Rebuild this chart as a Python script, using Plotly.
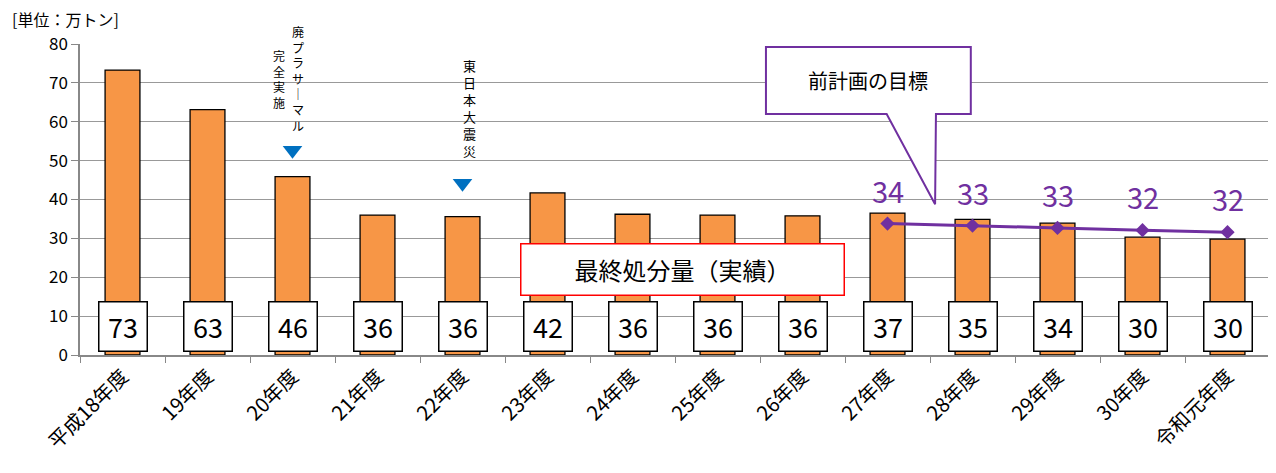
import plotly.graph_objects as go

categories = ["平成18年度", "19年度", "20年度", "21年度", "22年度", "23年度", "24年度",
              "25年度", "26年度", "27年度", "28年度", "29年度", "30年度", "令和元年度"]
actual = [73.3, 63.1, 45.9, 36.0, 35.6, 41.7, 36.2, 36.0, 35.8, 36.5, 34.9, 33.9, 30.3, 29.8]
actual_labels = ["73", "63", "46", "36", "36", "42", "36", "36", "36", "37", "35", "34", "30", "30"]
target_cats = ["27年度", "28年度", "29年度", "30年度", "令和元年度"]
target = [33.8, 33.3, 32.7, 32.1, 31.6]
target_labels = ["34", "33", "33", "32", "32"]
event_cats = ["20年度", "22年度"]
event_marks = [52.7, 44.2]

FONT = "Noto Sans CJK JP"
PURPLE = "#7030A0"

fig = go.Figure()
fig.add_trace(go.Bar(x=categories, y=actual, width=0.41,
                     marker=dict(color="#F79646", line=dict(color="#000000", width=1.3)),
                     showlegend=False))
fig.add_trace(go.Scatter(x=target_cats, y=target, mode="lines+markers",
                         line=dict(color=PURPLE, width=3),
                         marker=dict(symbol="diamond", size=11, color=PURPLE),
                         showlegend=False))
fig.add_trace(go.Scatter(x=event_cats, y=event_marks, mode="markers",
                         marker=dict(symbol="triangle-down", size=17, color="#0070C0"),
                         showlegend=False))

ann = []
# bar value boxes
for c, t in zip(categories, actual_labels):
    ann.append(dict(x=c, y=7.4, text=t, showarrow=False, font=dict(family=FONT, size=27, color="#000"),
                    bgcolor="#FFFFFF", bordercolor="#000000", borderwidth=1.5,
                    width=45, height=46, xanchor="center", yanchor="middle"))
# target labels
for c, v, t in zip(target_cats, target, target_labels):
    ann.append(dict(x=c, y=v, text=t, showarrow=False, yshift=34,
                    font=dict(family=FONT, size=29, color=PURPLE)))

# vertical texts (one character per line)
def vertical(text, x, xshift, yval, size):
    ann.append(dict(x=x, y=yval, text="<br>".join(text), showarrow=False, xshift=xshift,
                    yanchor="middle", font=dict(family=FONT, size=size, color="#000")))

vertical("廃プラサ｜マル", "20年度", 5, 71.0, 12)
vertical("完全実施", "20年度", -14, 71.0, 12)
vertical("東日本大震災", "22年度", 7, 63.6, 13)

# legend-like box
ann.append(dict(x=6.59, y=22.1, text="最終処分量（実績）", showarrow=False,
                font=dict(family=FONT, size=24, color="#000"),
                bgcolor="#FFFFFF", bordercolor="#FF0000", borderwidth=1.5,
                width=320, height=48))
# callout text
ann.append(dict(x=8.77, y=70.7, text="前計画の目標", showarrow=False,
                font=dict(family=FONT, size=20, color="#000")))
# unit
ann.append(dict(x=0, xref="paper", xanchor="left", xshift=-69, y=1, yref="paper",
                yanchor="middle", yshift=25, text="[単位：万トン]", showarrow=False,
                borderpad=0, font=dict(family=FONT, size=16, color="#000")))

shapes = [dict(type="path", xref="x", yref="y",
               path="M 7.57,79.2 L 9.98,79.2 L 9.98,62.0 L 9.57,62.0 L 9.56,38.8 L 8.99,62.0 L 7.57,62.0 Z",
               fillcolor="#FFFFFF", line=dict(color=PURPLE, width=2), layer="above")]

fig.update_layout(
    width=1268, height=465, margin=dict(l=72, r=6, t=36, b=118),
    paper_bgcolor="#FFFFFF", plot_bgcolor="#FFFFFF",
    font=dict(family=FONT, color="#000"),
    annotations=ann, shapes=shapes, bargap=0.59,
    xaxis=dict(type="category", categoryorder="array", categoryarray=categories,
               range=[-0.5, 13.5], tickangle=-45, tickfont=dict(size=20, family=FONT),
               showline=True, linecolor="#888888", linewidth=1.5,
               ticks="outside", tickson="boundaries", ticklen=6, tickcolor="#888888",
               showgrid=False, automargin=False),
    yaxis=dict(range=[0, 80], dtick=10, tickfont=dict(size=17, family=FONT),
               showgrid=True, gridcolor="#999999", gridwidth=1.2,
               showline=True, linecolor="#888888", linewidth=1.5,
               ticks="outside", ticklen=7, tickcolor="#888888", zeroline=False,
               automargin=False),
)

fig.write_html("out.html")
